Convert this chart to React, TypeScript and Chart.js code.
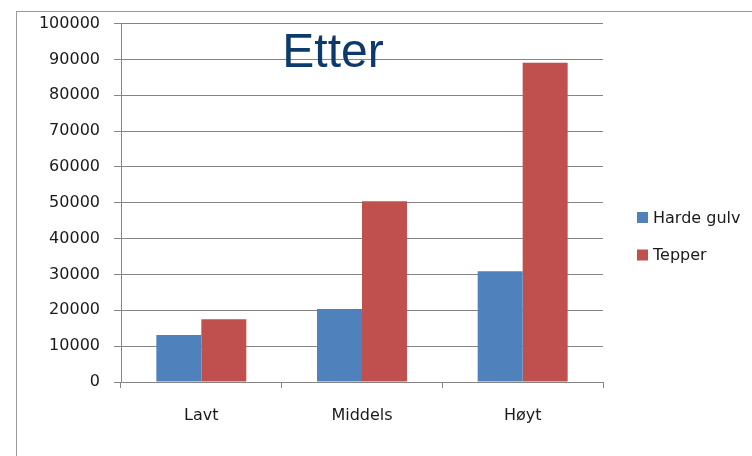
import React, { useEffect, useRef } from "react";
import { Chart, registerables } from "chart.js";

Chart.register(...registerables);

const categories = ["Lavt", "Middels", "Høyt"];
const hardeGulv = [13100, 20400, 30900];
const tepper = [17500, 50400, 89100];
const seriesNames = ["Harde gulv", "Tepper"];
const titleText = "Etter";

const GRID = "#858585";
const TEXT = "#1a1a1a";
const FONT = "'DejaVu Sans', Verdana, sans-serif";

const titlePlugin = {
  id: "etterTitle",
  afterDraw(chart: any) {
    const { ctx, chartArea } = chart;
    ctx.save();
    ctx.font = `48px 'Liberation Sans', Arial, sans-serif`;
    ctx.fillStyle = "#0d3a6c";
    ctx.textAlign = "center";
    ctx.textBaseline = "alphabetic";
    ctx.fillText(titleText, chartArea.left + 212, 67);
    ctx.restore();
  },
};

const legendPlugin = {
  id: "sideLegend",
  afterDraw(chart: any) {
    const { ctx, chartArea } = chart;
    ctx.save();
    ctx.font = `16px ${FONT}`;
    ctx.textBaseline = "middle";
    ctx.textAlign = "left";
    chart.data.datasets.forEach((ds: any, i: number) => {
      const x = chartArea.right + 34;
      const cy = 217.5 + i * 37.5;
      ctx.fillStyle = ds.backgroundColor;
      ctx.fillRect(x, cy - 5.5, 11, 11);
      ctx.fillStyle = TEXT;
      ctx.fillText(ds.label, x + 16, cy + 1);
    });
    ctx.restore();
  },
};

export default function App() {
  const ref = useRef<HTMLCanvasElement | null>(null);
  useEffect(() => {
    if (!ref.current) return;
    const chart = new Chart(ref.current, {
      type: "bar",
      data: {
        labels: categories,
        datasets: [
          { label: seriesNames[0], data: hardeGulv, backgroundColor: "#4f81bd", categoryPercentage: 0.56, barPercentage: 1 },
          { label: seriesNames[1], data: tepper, backgroundColor: "#c0504d", categoryPercentage: 0.56, barPercentage: 1 },
        ],
      },
      options: {
        animation: false,
        responsive: false,
        maintainAspectRatio: false,
        layout: { padding: { left: 0, top: 23, right: 149, bottom: 0 } },
        plugins: {
          legend: { display: false },
          title: { display: false },
          tooltip: { enabled: false },
        },
        scales: {
          x: {
            afterFit: (s: any) => { s.height = 74; },
            grid: { display: true, drawOnChartArea: false, drawTicks: true, tickLength: 6, color: GRID },
            border: { display: true, color: GRID },
            ticks: { color: TEXT, font: { family: FONT, size: 16 }, padding: 18 },
          },
          y: {
            min: 0,
            max: 100000,
            afterFit: (s: any) => { s.width = 121; },
            grid: { color: GRID, tickLength: 7, drawTicks: true },
            border: { display: true, color: GRID },
            ticks: {
              stepSize: 10000,
              color: TEXT,
              font: { family: FONT, size: 16 },
              padding: 14,
              callback: (v: any) => String(v),
            },
          },
        },
      },
      plugins: [titlePlugin, legendPlugin],
    } as any);
    return () => chart.destroy();
  }, []);
  return (
    <div style={{ position: "absolute", left: 0, top: 0, width: 752, height: 456, overflow: "hidden", background: "#fff" }}>
      <div style={{ position: "absolute", left: 16, top: 11, width: 800, height: 500, borderLeft: "1px solid #9a9a9a", borderTop: "1px solid #9a9a9a" }} />
      <canvas ref={ref} width={752} height={456} style={{ position: "absolute", left: 0, top: 0, width: 752, height: 456 }} />
    </div>
  );
}
